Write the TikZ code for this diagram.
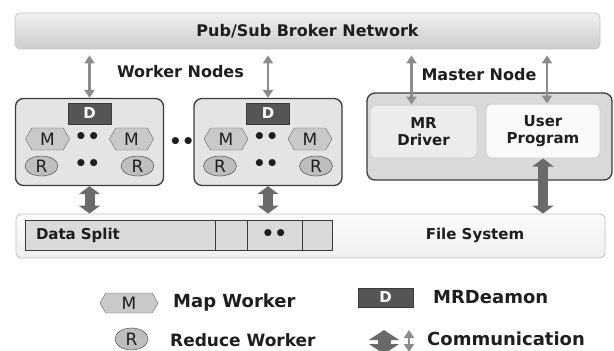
\documentclass[tikz,border=0pt]{standalone}
\usepackage{fontspec}
\setmainfont{DejaVu Sans}
\usetikzlibrary{positioning,calc,arrows.meta,shapes.symbols,shapes.geometric}
\definecolor{ink}{HTML}{1E1E1E}
\definecolor{edge}{HTML}{3A3A3A}
\definecolor{boxgray}{HTML}{E4E4E4}
\definecolor{mastergray}{HTML}{D9D9D9}
\definecolor{dgray}{HTML}{555555}
\definecolor{mgray}{HTML}{C9C9C9}
\definecolor{rgray}{HTML}{BEBEBE}
\definecolor{commgray}{HTML}{8C8C8C}
\definecolor{fatgray}{HTML}{6A6A6A}
\definecolor{cellgray}{HTML}{DADADA}
\tikzset{
	txt/.style={font=\bfseries\fontsize{16}{18}\selectfont,text=ink},
	small/.style={font=\bfseries\fontsize{15}{17}\selectfont,text=ink},
	legend/.style={font=\bfseries\fontsize{18}{20}\selectfont,text=ink,anchor=west,inner sep=0pt},
	bar/.style={rounded corners=5pt,draw=gray!45,line width=0.8pt,top color=gray!12,bottom color=gray!40},
	wbox/.style={rounded corners=8pt,draw=edge,line width=1.3pt,fill=boxgray,minimum width=148pt,minimum height=87pt},
	dmn/.style={draw=edge,fill=dgray,text=white,font=\bfseries\fontsize{15}{15}\selectfont,minimum width=43pt,minimum height=21pt,inner sep=0pt},
	mapw/.style={signal,signal to=west and east,signal pointer angle=120,draw=gray!80!black,fill=mgray,text=ink,font=\fontsize{17}{17}\selectfont,minimum width=44pt,minimum height=22pt,inner sep=0pt},
	redw/.style={ellipse,draw=edge,fill=rgray,text=ink,font=\fontsize{17}{17}\selectfont,minimum width=33pt,minimum height=20pt,inner sep=0pt},
	dots/.style={font=\bfseries\fontsize{20}{20}\selectfont,text=ink,inner sep=0pt},
	cell/.style={draw=edge,fill=cellgray,line width=0.9pt,minimum height=30pt,inner sep=0pt,outer sep=0pt},
	comm/.style={draw=commgray,line width=2.6pt,<->,>={Triangle[width=10pt,length=8pt]}},
	fat/.style={draw=fatgray,line width=10pt,<->,>={Triangle[width=21pt,length=8pt]}},
}
\begin{document}
\begin{tikzpicture}[x=1pt,y=-1pt]
	\useasboundingbox (0,0) rectangle (614,351);
	\node[bar,txt,minimum width=585pt,minimum height=36pt] (broker) at (307.5,31) {Pub/Sub Broker Network};
	\node[bar,draw=gray!50,top color=gray!3,bottom color=gray!12,minimum width=589pt,minimum height=44pt] (fs) at (310.5,236) {};
	\node[small] (fstxt) at (475,235) {File System};
	\node[cell,small,anchor=west,text width=168pt,align=left,inner xsep=11pt] (ds) at (25,235) {Data Split};
	\node[cell,right=0pt of ds,minimum width=32pt] (c1) {};
	\node[cell,dots,right=0pt of c1,minimum width=55pt,minimum height=30pt] (c2) {••};
	\node[cell,right=0pt of c2,minimum width=30pt] (c3) {};
	
	\foreach \i/\cx in {1/89.5,2/268}{
		\node[wbox] (w\i) at (\cx,142) {};
		\node[dmn] (d\i) at ($(w\i)+(0,-28.5)$) {D};
		\node[mapw] (ma\i) at ($(w\i)+(-42,-3)$) {M};
		\node[mapw] (mb\i) at ($(w\i)+(42,-3)$) {M};
		\node[redw] (ra\i) at ($(w\i)+(-48,24)$) {R};
		\node[redw] (rb\i) at ($(w\i)+(48,24)$) {R};
		\node[dots] (md\i) at ($(w\i)+(-2,-4)$) {••};
		\node[dots] (rd\i) at ($(w\i)+(-2,23)$) {••};
		\draw[comm,shorten <=6pt] (broker.south -| d\i.north) -- (w\i.north -| d\i.north);
		\draw[fat] (w\i.south) -- (w\i.south |- fs.north);
	}
	\node[dots] (wd) at (182,143) {••};
	\node[txt] (wlab) at (180.5,72) {Worker Nodes};
	
	\node[wbox,fill=mastergray,minimum width=245pt] (mst) at (489.5,136.5) {};
	\node[small,rounded corners=6pt,draw=gray!35,fill=gray!15,line width=1pt,minimum width=107pt,minimum height=53pt,align=center] (drv) at (423.5,131.5) {MR\\Driver};
	\node[small,rounded corners=6pt,draw=gray!35,fill=gray!4,line width=1pt,minimum width=114pt,minimum height=54pt,align=center] (usr) at (543,131) {User\\Program};
	\node[txt] (mlab) at (479,75) {Master Node};
	\coordinate (dtop) at ([xshift=-12pt]drv.north);
	\coordinate (utop) at ([xshift=4pt]usr.north);
	\draw[comm,shorten <=6pt] (dtop |- broker.south) -- (dtop);
	\draw[comm,shorten <=6pt] (utop |- broker.south) -- (utop);
	\draw[fat] (usr.south) -- (usr.south |- fs.north);
	
	\node[mapw,minimum width=58pt,minimum height=20pt] (lm) at (129,303) {M};
	\node[legend] (lmt) at (173,303) {Map Worker};
	\node[redw,minimum width=33pt,minimum height=22pt] (lr) at (131.5,339) {R};
	\node[legend,font=\bfseries\fontsize{17}{19}\selectfont] (lrt) at (170,340) {Reduce Worker};
	\node[dmn,minimum width=55pt,minimum height=19pt] (ld) at (385.5,297.5) {D};
	\node[legend] (ldt) at (433,297) {MRDeamon};
	\coordinate (lf) at (384,330);
	\coordinate (lt) at (409,330);
	\draw[fat,line width=13pt,>={Triangle[width=30pt,length=10pt]}] (lf) -- ++(0,24);
	\draw[comm] (lt) -- ++(0,22);
	\node[legend] (lct) at (427,339) {Communication};
\end{tikzpicture}
\end{document}
